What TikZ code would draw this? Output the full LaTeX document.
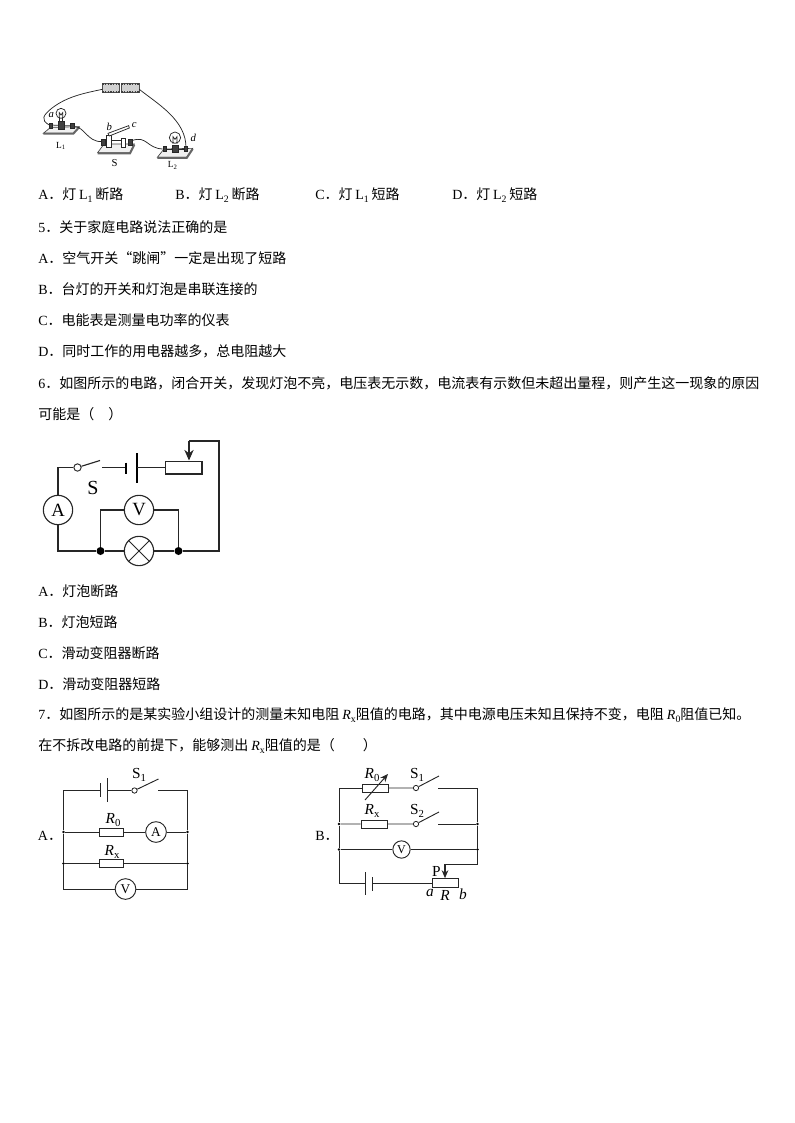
\documentclass[tikz,border=0pt]{standalone}
\usepackage{fontspec}
\setmainfont{Liberation Serif}
\newfontfamily\cjk{Noto Sans CJK SC}
\newcommand{\latf}[1]{{\rmfamily #1}}
\newcommand{\ital}[2]{{\rmfamily\textit{#1}\raisebox{-0.2em}{\scalebox{0.7}{#2}}}}
\newcommand{\subs}[1]{\raisebox{-0.2em}{\rmfamily\scalebox{0.7}{#1}}}
\newcommand{\lamp}[1]{\hspace{0.2em}\latf{L}\subs{#1}\hspace{0.2em}}
\usetikzlibrary{arrows.meta}
\tikzset{
  txt/.style={anchor=west,inner sep=0pt,font=\fontsize{10.5pt}{12pt}\selectfont\cjk},
  lab/.style={inner sep=0pt,font=\fontsize{11.5pt}{13pt}\selectfont\rmfamily},
  wire/.style={draw=black!85,line width=0.7pt},
  wirebig/.style={draw=black!85,line width=0.85pt},
  meterbig/.style={circle,draw=black!85,line width=0.85pt,fill=white,minimum size=22pt,inner sep=0pt,font=\fontsize{14pt}{15pt}\selectfont\rmfamily},
  metersmall/.style={circle,draw=black!85,line width=0.7pt,fill=white,minimum size=15.5pt,inner sep=0pt,font=\fontsize{10pt}{11pt}\selectfont\rmfamily},
  resbox/.style={rectangle,draw=black!85,line width=0.7pt,fill=white,minimum width=18pt,minimum height=6pt,inner sep=0pt},
  pivot/.style={circle,draw=black!85,line width=0.6pt,fill=white,minimum size=4pt,inner sep=0pt},
  joint/.style={circle,fill=black,minimum size=2.2pt,inner sep=0pt},
  bigjoint/.style={circle,fill=black,minimum size=6pt,inner sep=0pt},
  pwire/.style={draw=black!85,line width=0.55pt},
  pbase/.style={draw=black!75,fill=black!6,line width=0.5pt},
  pedge/.style={draw=black!60,line width=1.5pt},
  pterm/.style={draw=black!85,fill=black!75,line width=0.3pt},
  pcell/.style={draw=black!70,fill=black!18,line width=0.5pt},
  phatch/.style={draw=black!75,line width=1.3pt,dash pattern=on 1pt off 1pt},
  plabel/.style={inner sep=0pt,font=\fontsize{8pt}{9pt}\selectfont\rmfamily\itshape},
  pname/.style={inner sep=0pt,font=\fontsize{7pt}{8pt}\selectfont\rmfamily},
}
\begin{document}
\begin{tikzpicture}[x=0.75pt,y=-0.75pt]
\useasboundingbox (0,0) rectangle (794,1123);
% ---------- photo figure ----------
\begin{scope}[x=0.25pt,y=-0.25pt,shift={(22.5pt,-52.5pt)}]
  \draw[pcell] (217,40) rectangle (269,67);
  \draw[pcell] (274,40) rectangle (328,67);
  \draw[phatch] (217,42) -- (269,42) (274,42) -- (328,42) (217,65) -- (269,65) (274,65) -- (328,65);
  \draw[pwire] (217,58) .. controls (160,70) and (110,80) .. (65,115) .. controls (40,135) and (30,150) .. (58,165);
  \draw[pwire] (328,58) .. controls (380,100) and (470,150) .. (468,235);
  % L1
  \draw[pbase] (40,190) -- (62,172) -- (148,170) -- (130,190) -- cycle;
  \draw[pedge] (40,191) -- (130,191) -- (148,171);
  \draw[pwire] (62,165) -- (130,168);
  \draw[pterm] (58,160) rectangle (68,176);
  \draw[pterm] (122,160) rectangle (132,176);
  \draw[pwire,fill=white] (93,130) circle (15);
  \draw[pwire] (88,145) -- (88,128) -- (93,135) -- (98,128) -- (98,145);
  \draw[pterm] (85,155) rectangle (103,178);
  \draw[pwire] (88,145) -- (88,155) (98,145) -- (98,155);
  \draw[pwire] (132,170) .. controls (165,170) and (170,215) .. (215,215);
  % S
  \draw[pbase] (203,248) -- (222,222) -- (313,222) -- (300,248) -- cycle;
  \draw[pedge] (203,250) -- (300,250) -- (313,224);
  \draw[pwire,fill=white] (229,195) rectangle (243,232);
  \draw[pwire,fill=white] (275,205) rectangle (287,232);
  \draw[pwire] (243,212) -- (275,212);
  \draw[pwire,fill=white] (234,190) -- (296,167) -- (298,174) -- (238,198) -- cycle;
  \draw[pterm] (214,208) rectangle (226,226);
  \draw[pterm] (296,208) rectangle (306,226);
  \draw[pwire] (306,212) .. controls (350,195) and (350,235) .. (398,237);
  % L2
  \draw[pbase] (382,262) -- (402,237) -- (488,235) -- (470,262) -- cycle;
  \draw[pedge] (382,264) -- (470,264) -- (488,237);
  \draw[pwire] (405,237) -- (465,237);
  \draw[pterm] (400,230) rectangle (410,245);
  \draw[pterm] (462,230) rectangle (472,245);
  \draw[pwire,fill=white] (435,203) circle (17);
  \draw[pwire] (429,222) -- (429,200) -- (435,208) -- (441,200) -- (441,222);
  \draw[pterm] (426,225) rectangle (444,248);
  \node[plabel] (la) at (64,134) {a};
  \node[plabel] (lb) at (238,172) {b};
  \node[plabel] (lc) at (313,166) {c};
  \node[plabel] (ld) at (490,204) {d};
  \node[pname] (ll1) at (93,228) {L\textsubscript{1}};
  \node[pname,font=\fontsize{8pt}{9pt}\selectfont\rmfamily] (ls) at (254,278) {S};
  \node[pname] (ll2) at (428,286) {L\textsubscript{2}};
\end{scope}
% ---------- text ----------
\node[txt] (t1a) at (38,195) {\latf{A}．灯\lamp{1}断路};
\node[txt] (t1b) at (175,195) {\latf{B}．灯\lamp{2}断路};
\node[txt] (t1c) at (315,195) {\latf{C}．灯\lamp{1}短路};
\node[txt] (t1d) at (452,195) {\latf{D}．灯\lamp{2}短路};
\node[txt] (t2) at (38,227) {\latf{5}．关于家庭电路说法正确的是};
\node[txt] (t3) at (38,258) {\latf{A}．空气开关“跳闸”一定是出现了短路};
\node[txt] (t4) at (38,289) {\latf{B}．台灯的开关和灯泡是串联连接的};
\node[txt] (t5) at (38,320) {\latf{C}．电能表是测量电功率的仪表};
\node[txt] (t6) at (38,351) {\latf{D}．同时工作的用电器越多，总电阻越大};
\node[txt] (t7) at (38,383) {\latf{6}．如图所示的电路，闭合开关，发现灯泡不亮，电压表无示数，电流表有示数但未超出量程，则产生这一现象的原因};
\node[txt] (t8) at (38,414) {可能是（\hspace{1em}）};
\node[txt] (t9) at (38,591) {\latf{A}．灯泡断路};
\node[txt] (t10) at (38,622) {\latf{B}．灯泡短路};
\node[txt] (t11) at (38,653) {\latf{C}．滑动变阻器断路};
\node[txt] (t12) at (38,684) {\latf{D}．滑动变阻器短路};
\node[txt] (t13) at (38,715) {\latf{7}．如图所示的是某实验小组设计的测量未知电阻 \ital{R}{x}阻值的电路，其中电源电压未知且保持不变，电阻 \ital{R}{0}阻值已知。};
\node[txt] (t14) at (38,746) {在不拆改电路的前提下，能够测出 \ital{R}{x}阻值的是（\hspace{2em}）};
% ---------- circuit 6 ----------
\begin{scope}
  \node[meterbig] (A6) at (58,510) {A};
  \node[meterbig] (V6) at (139,510) {V};
  \node[meterbig] (L6) at (139,551) {};
  \draw[wirebig,line width=0.6pt] (L6.north west) -- (L6.south east) (L6.north east) -- (L6.south west);
  \node[pivot,minimum size=5.5pt,line width=0.7pt] (S6) at (77.5,467.5) {};
  \coordinate (S6t) at (100,460.5);
  \node[rectangle,draw=black!85,line width=1pt,minimum width=27.5pt,minimum height=9.5pt,inner sep=0pt] (R6) at (183.5,467.5) {};
  \node[bigjoint] (J61) at (100.5,551) {};
  \node[bigjoint] (J62) at (178.5,551) {};
  \coordinate (B61) at (126,467.5);
  \coordinate (B62) at (136.5,467.5);
  \coordinate (C6) at (58,467.5);
  \coordinate (D6) at (58,551);
  \coordinate (W6a) at (102,467.5);
  \coordinate (E6) at (219,551);
  \coordinate (F6) at (219,441);
  \coordinate (G6) at (189,441);
  \draw[wirebig] (A6) -- (C6) -- (S6);
  \draw[wirebig] (S6) -- (S6t);
  \draw[wirebig] (W6a) -- (B61);
  \draw[black,line width=2pt] (126,462.5) -- (126,473.5);
  \draw[black,line width=1.5pt] (136.5,453) -- (136.5,483);
  \draw[wirebig] (B62) -- (R6);
  \draw[wirebig] (A6) -- (D6) -- (J61) -- (L6) -- (J62) -- (E6) -- (F6) -- (G6);
  \draw[wirebig] (J61) |- (V6);
  \draw[wirebig] (J62) |- (V6);
  \draw[wirebig,-{Stealth[length=8pt,width=7pt]}] (G6) -- (G6 |- R6.north);
  \node[inner sep=0pt,font=\fontsize{15pt}{16pt}\selectfont\rmfamily] (S6l) at (93,488) {S};
\end{scope}
% ---------- circuit A ----------
\begin{scope}
  \node[resbox] (R0a) at (111.5,832) {};
  \node[resbox] (Rxa) at (111.5,863.5) {};
  \node[metersmall] (Am) at (156,832) {A};
  \node[metersmall] (Vm) at (125.5,889) {V};
  \node[pivot] (Sa) at (134.5,790.5) {};
  \coordinate (Sat) at (158.5,779);
  \coordinate (TL) at (63.5,790.5);
  \coordinate (TR) at (187.5,790.5);
  \coordinate (BL) at (63.5,889);
  \coordinate (BR) at (187.5,889);
  \coordinate (WR) at (157.5,790.5);
  \node[joint] (J1) at (63.5,832) {};
  \node[joint] (J2) at (63.5,863.5) {};
  \node[joint] (J3) at (187.5,832) {};
  \node[joint] (J4) at (187.5,863.5) {};
  \coordinate (Ba1) at (100,790.5);
  \coordinate (Ba2) at (107.5,790.5);
  \draw[wire] (Ba1) -- (TL) -- (J1) -- (J2) -- (BL) -- (Vm) -- (BR) -- (J4) -- (J3) -- (TR) -- (WR);
  \draw[wire] (Ba2) -- (Sa) -- (Sat);
  \draw[wire] (100,783) -- (100,797);
  \draw[wire] (107.5,778) -- (107.5,802);
  \draw[wire] (J1) -- (R0a) -- (Am) -- (J3);
  \draw[wire] (J2) -- (Rxa) -- (J4);
  \node[lab,font=\fontsize{10.5pt}{12pt}\selectfont\cjk] (lA) at (50,836) {\latf{A}．};
  \node[lab] (lR0a) at (113,820) {\ital{R}{0}};
  \node[lab] (lRxa) at (112,852) {\ital{R}{x}};
  \node[lab] (lS1a) at (139,775) {S\subs{1}};
\end{scope}
% ---------- circuit B ----------
\begin{scope}
  \node[resbox,minimum width=19.5pt] (R0b) at (375,788) {};
  \node[resbox,minimum width=19.5pt] (Rxb) at (374,824) {};
  \node[metersmall,minimum size=13pt,font=\fontsize{9pt}{10pt}\selectfont\rmfamily] (Vb) at (401.5,849.5) {V};
  \node[pivot] (S1b) at (416,788) {};
  \node[pivot] (S2b) at (416,824) {};
  \coordinate (S1t) at (439,776);
  \coordinate (S2t) at (439,812);
  \coordinate (W1) at (438,788);
  \coordinate (W2) at (438,824);
  \coordinate (TLb) at (339,788);
  \coordinate (TRb) at (477.5,788);
  \node[joint] (J5) at (339,824) {};
  \node[joint] (J6) at (339,849.5) {};
  \node[joint] (J7) at (477.5,824) {};
  \node[joint] (J8) at (477.5,849.5) {};
  \coordinate (BLb) at (339,883);
  \coordinate (Pb) at (477.5,864);
  \coordinate (Pc) at (445,864);
  \node[rectangle,draw=black!85,line width=0.7pt,fill=white,minimum width=19.5pt,minimum height=6.5pt,inner sep=0pt] (Rb) at (445,883) {};
  \coordinate (Bb1) at (365.5,883);
  \coordinate (Bb2) at (372.5,883);
  \draw[wire] (R0b) -- (TLb) -- (J5) -- (J6) -- (BLb) -- (Bb1);
  \draw[wire] (Bb2) -- (Rb);
  \draw[wire] (365.5,872) -- (365.5,895);
  \draw[wire] (372.5,877) -- (372.5,891);
  \draw[wire] (R0b) -- (S1b) -- (S1t);
  \draw[wire] (J5) -- (Rxb) -- (S2b) -- (S2t);
  \draw[wire] (W1) -- (TRb) -- (J7) -- (J8) -- (Pb) -- (Pc);
  \draw[wire] (W2) -- (J7);
  \draw[wire] (J6) -- (Vb) -- (J8);
  \draw[wirebig,-{Stealth[length=6pt,width=5pt]}] (Pc) -- (Pc |- Rb.north);
  \draw[wire,-{Stealth[length=6pt,width=5pt]}] (365,800) -- (388,774);
  \node[lab,font=\fontsize{10.5pt}{12pt}\selectfont\cjk] (lB) at (327,836) {\latf{B}．};
  \node[lab] (lR0b) at (372,775) {\ital{R}{0}};
  \node[lab] (lRxb) at (372,811) {\ital{R}{x}};
  \node[lab] (lS1b) at (417,775) {S\subs{1}};
  \node[lab] (lS2b) at (417,811) {S\subs{2}};
  \node[lab] (lP) at (436.5,871) {P};
  \node[lab,font=\fontsize{11.5pt}{13pt}\selectfont\rmfamily\itshape] (la2) at (430,893) {a};
  \node[lab,font=\fontsize{11.5pt}{13pt}\selectfont\rmfamily\itshape] (lR) at (445,895) {R};
  \node[lab,font=\fontsize{11.5pt}{13pt}\selectfont\rmfamily\itshape] (lb2) at (463,894) {b};
\end{scope}
\end{tikzpicture}
\end{document}
